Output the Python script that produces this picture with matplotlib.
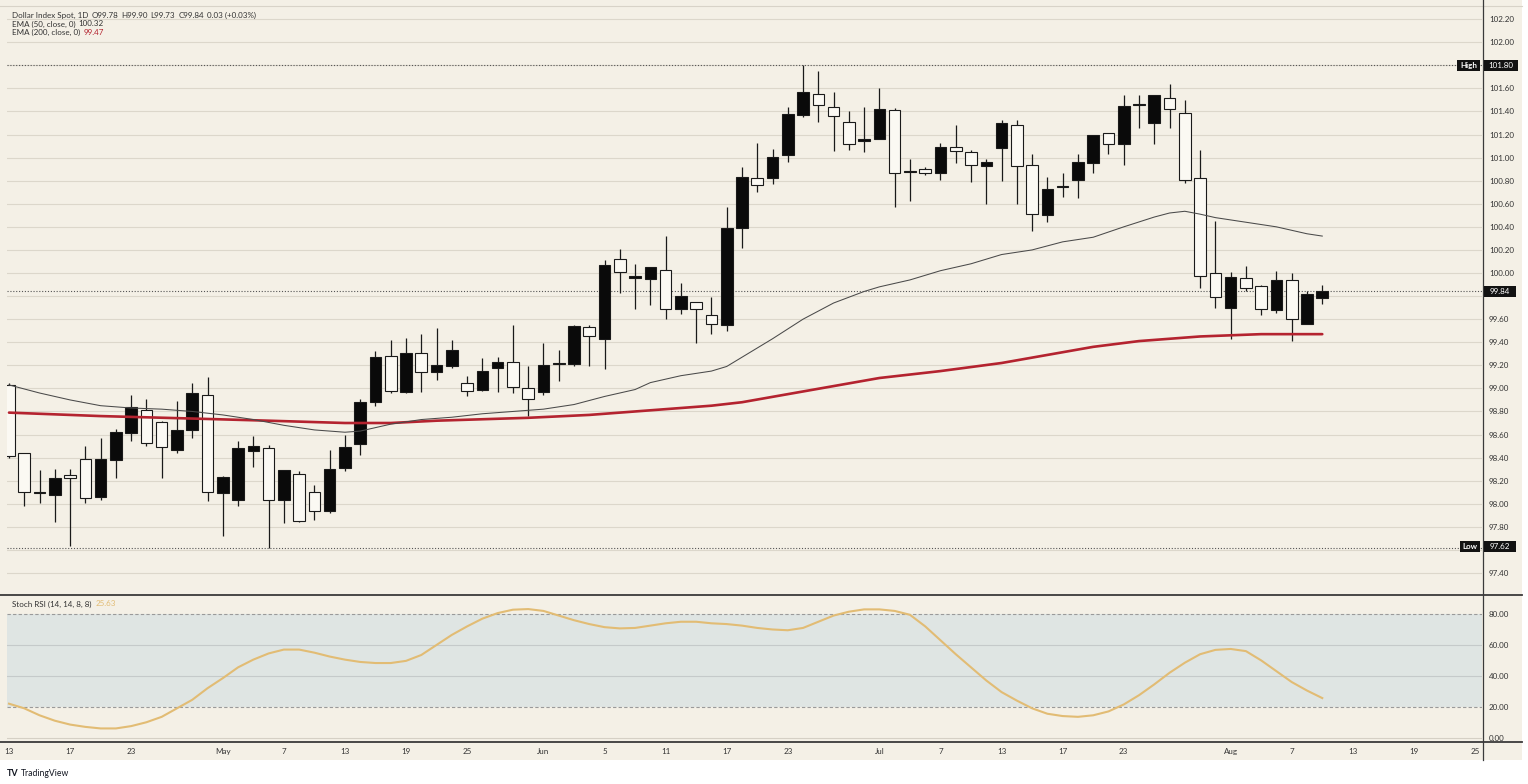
import matplotlib
matplotlib.use('Agg')
import matplotlib.pyplot as plt
import numpy as np
import pandas as pd
from matplotlib.patches import Rectangle
from matplotlib.lines import Line2D

plt.rcParams['font.family'] = ['Lato', 'DejaVu Sans']

# ---------------- data ----------------
dates = pd.bdate_range('2026-04-13', periods=97)   # trading days (last 10 = empty future space)

opens = [99.03, 98.44, 98.09, 98.08, 98.25, 98.39, 98.06, 98.38, 98.61, 98.81,
         98.71, 98.47, 98.64, 98.94, 98.09, 98.03, 98.46, 98.48, 98.03, 98.26,
         98.10, 97.94, 98.31, 98.52, 98.88, 99.28, 98.97, 99.31, 99.145, 99.19,
         99.05, 98.99, 99.18, 99.23, 99.00, 98.97, 99.21, 99.21, 99.53, 99.43,
         100.12, 99.96, 99.95, 100.03, 99.69, 99.75, 99.64, 99.55, 100.39, 100.82,
         100.82, 101.02, 101.37, 101.55, 101.44, 101.31, 101.14, 101.16, 101.41, 100.875,
         100.90, 100.87, 101.09, 101.045, 100.93, 101.08, 101.28, 100.94, 100.50, 100.745,
         100.81, 100.955, 101.21, 101.12, 101.455, 101.30, 101.52, 101.39, 100.82, 100.00,
         99.70, 99.96, 99.885, 99.68, 99.94, 99.555, 99.78]
highs = [99.05, 98.44, 98.29, 98.30, 98.30, 98.50, 98.57, 98.65, 98.94, 98.91,
         98.72, 98.89, 99.05, 99.10, 98.24, 98.54, 98.59, 98.51, 98.29, 98.28,
         98.16, 98.47, 98.60, 98.91, 99.32, 99.42, 99.44, 99.47, 99.52, 99.42,
         99.11, 99.26, 99.27, 99.55, 99.19, 99.39, 99.33, 99.55, 99.55, 100.11,
         100.21, 100.08, 100.05, 100.32, 99.91, 99.75, 99.795, 100.575, 100.92, 101.13,
         101.075, 101.435, 101.80, 101.75, 101.57, 101.40, 101.44, 101.60, 101.43, 100.99,
         100.92, 101.13, 101.28, 101.065, 100.99, 101.33, 101.325, 101.03, 100.83, 100.87,
         101.03, 101.20, 101.21, 101.54, 101.54, 101.54, 101.635, 101.50, 101.07, 100.45,
         100.01, 100.06, 99.90, 100.02, 100.00, 99.84, 99.90]
lows = [98.40, 97.98, 98.01, 97.84, 97.63, 98.01, 98.03, 98.22, 98.54, 98.50,
        98.22, 98.44, 98.57, 98.02, 97.72, 97.98, 98.32, 97.62, 97.83, 97.84,
        97.86, 97.92, 98.28, 98.42, 98.85, 98.96, 98.96, 98.97, 99.07, 99.18,
        98.93, 98.98, 98.97, 98.96, 98.76, 98.94, 99.06, 99.19, 99.19, 99.17,
        99.83, 99.685, 99.72, 99.60, 99.645, 99.39, 99.47, 99.50, 100.22, 100.70,
        100.77, 100.96, 101.355, 101.31, 101.06, 101.07, 101.05, 101.16, 100.57, 100.62,
        100.85, 100.81, 100.95, 100.79, 100.60, 100.80, 100.60, 100.36, 100.44, 100.66,
        100.65, 100.87, 101.03, 100.94, 101.26, 101.12, 101.26, 100.78, 99.87, 99.70,
        99.43, 99.84, 99.64, 99.65, 99.41, 99.555, 99.73]
closes = [98.41, 98.10, 98.10, 98.22, 98.22, 98.05, 98.39, 98.62, 98.84, 98.53,
          98.49, 98.64, 98.96, 98.10, 98.23, 98.48, 98.50, 98.03, 98.29, 97.85,
          97.94, 98.30, 98.49, 98.88, 99.27, 98.98, 99.31, 99.14, 99.20, 99.33,
          98.98, 99.15, 99.23, 99.01, 98.91, 99.20, 99.22, 99.54, 99.45, 100.07,
          100.01, 99.97, 100.05, 99.69, 99.80, 99.685, 99.56, 100.39, 100.83, 100.76,
          101.005, 101.38, 101.57, 101.46, 101.36, 101.12, 101.16, 101.42, 100.87, 100.88,
          100.87, 101.09, 101.06, 100.94, 100.96, 101.30, 100.93, 100.51, 100.73, 100.75,
          100.96, 101.195, 101.12, 101.45, 101.46, 101.54, 101.42, 100.81, 99.97, 99.79,
          99.965, 99.87, 99.69, 99.94, 99.60, 99.82, 99.84]

ema50_bar = [0, 2, 4, 6, 8, 10, 12, 14, 16, 18, 20, 22, 23, 25, 27, 29, 31, 33, 35, 37,
             39, 41, 42, 44, 46, 47, 48, 50, 52, 54, 56, 57, 59, 61, 63, 65, 67, 69, 71, 73,
             75, 76, 77, 78, 79, 81, 83, 85, 86]
ema50_val = [99.03, 98.96, 98.90, 98.85, 98.83, 98.82, 98.80, 98.77, 98.73, 98.68,
             98.64, 98.62, 98.63, 98.69, 98.73, 98.75, 98.78, 98.80, 98.82, 98.86,
             98.93, 98.99, 99.05, 99.11, 99.15, 99.19, 99.27, 99.43, 99.60, 99.74,
             99.84, 99.88, 99.94, 100.02, 100.08, 100.16, 100.20, 100.27, 100.31, 100.40,
             100.485, 100.52, 100.535, 100.51, 100.48, 100.44, 100.40, 100.34, 100.32]

ema200_bar = [0, 6, 13, 17, 22, 25, 28, 34, 38, 42, 46, 48, 51, 54, 57, 61, 65, 68, 71,
              74, 76, 78, 82, 86]
ema200_val = [98.79, 98.76, 98.735, 98.72, 98.70, 98.70, 98.72, 98.745, 98.77, 98.81,
              98.85, 98.88, 98.95, 99.02, 99.09, 99.15, 99.22, 99.29, 99.36,
              99.41, 99.43, 99.45, 99.47, 99.47]

stoch_rsi = [22, 19, 14.5, 11, 8.5, 7, 6, 6, 7.5, 10, 13.5, 19, 24.5, 32, 38.5, 45.5,
             50.5, 54.5, 57, 57, 55, 52.5, 50.5, 49, 48.3, 48.3, 49.7, 53.5, 60, 66.5,
             72, 77, 80.6, 82.8, 83.2, 82, 79, 76, 73.5, 71.5, 70.7, 71, 72.5, 74, 75,
             75, 74, 73.5, 72.5, 71, 70, 69.5, 71, 75, 79, 81.5, 83, 83, 82, 79.5, 72,
             63, 54, 45.5, 37, 29.5, 24, 19, 15.5, 14, 13.5, 14.5, 17, 21.5, 27.5, 34.5,
             42, 48.5, 54, 56.8, 57.4, 56, 50, 43, 36, 30.5, 25.63]

tick_dates = ['2026-04-13', '2026-04-17', '2026-04-23', '2026-05-01', '2026-05-07',
              '2026-05-13', '2026-05-19', '2026-05-25', '2026-06-01', '2026-06-05',
              '2026-06-11', '2026-06-17', '2026-06-23', '2026-07-01', '2026-07-07',
              '2026-07-13', '2026-07-17', '2026-07-23', '2026-08-03', '2026-08-07',
              '2026-08-13', '2026-08-19', '2026-08-25']
tick_labels = ['13', '17', '23', 'May', '7', '13', '19', '25', 'Jun', '5', '11', '17',
               '23', 'Jul', '7', '13', '17', '23', 'Aug', '7', '13', '19', '25']

price_ticks = [round(97.4 + 0.2 * k, 2) for k in range(25)]
high_val, low_val, last_val = 101.80, 97.62, 99.84
rsi_ticks = [0, 20, 40, 60, 80]

# ---------------- style ----------------
W, H = 1528, 784
BG = '#F4F0E6'
GRID = '#DCD7CB'
BAND = '#DFE5E3'
TXT = '#333333'
RED = '#B4232F'
GOLD = '#E2BC74'
FS = 5.8

def fx(p):
    return p / W

def fy(p):
    return 1 - p / H

fig = plt.figure(figsize=(W / 100, H / 100), dpi=100)
fig.patch.set_facecolor('white')
fig.add_artist(Rectangle((0, fy(760)), fx(1522), 1 - fy(760), transform=fig.transFigure,
                         facecolor=BG, edgecolor='none', zorder=-10))

L, R = 7, 1482
ax = fig.add_axes([fx(L), fy(594), fx(R) - fx(L), fy(6) - fy(594)])
ax2 = fig.add_axes([fx(L), fy(741), fx(R) - fx(L), fy(594) - fy(741)])

x = np.arange(len(opens))
xl = (-0.13, 96.46)

# ---- main pane ----
ax.set_facecolor(BG)
ax.set_xlim(*xl)
ax.set_ylim(97.218, 102.314)
for p in price_ticks:
    ax.axhline(p, color=GRID, lw=0.8, zorder=0)

o = np.array(opens); c = np.array(closes)
up = c >= o
bottom = np.minimum(o, c)
height = np.maximum(np.abs(c - o), 0.012)
ax.vlines(x, lows, highs, color='#1a1a1a', lw=0.9, zorder=2)
ax.bar(x, height, bottom=bottom, width=0.76,
       color=np.where(up, '#0a0a0a', '#FBF9F3'), edgecolor='#1a1a1a', linewidth=0.8, zorder=3)

ax.plot(ema200_bar, ema200_val, color=RED, lw=1.9, zorder=4, solid_capstyle='round')
ax.plot(ema50_bar, ema50_val, color='#4a4a4a', lw=0.75, zorder=4)

for v in (high_val, low_val, last_val):
    ax.axhline(v, color='#555555', lw=0.8, ls=(0, (1, 1.6)), zorder=1)

ax.yaxis.tick_right()
ax.set_yticks(price_ticks)
ax.set_yticklabels(['' if p in (high_val, 99.8, 97.6) else f'{p:.2f}' for p in price_ticks])
ax.tick_params(axis='y', length=0, pad=5, labelsize=FS, labelcolor=TXT)
ax.set_xticks([])
for s in ax.spines.values():
    s.set_visible(False)

# ---- stoch rsi pane ----
ax2.set_facecolor(BG)
ax2.set_xlim(*xl)
ax2.set_ylim(-2.13, 92.95)
ax2.axhspan(20, 80, color=BAND, zorder=0, lw=0)
ax2.axhline(0, color='#D5D0C5', lw=0.8, zorder=1)
for v in (40, 60):
    ax2.axhline(v, color='#C5CACA', lw=0.8, zorder=1)
for v in (20, 80):
    ax2.axhline(v, color='#9A9A9A', lw=0.8, ls=(0, (3, 2)), zorder=1)
ax2.plot(x, stoch_rsi, color=GOLD, lw=1.5, zorder=3)
ax2.yaxis.tick_right()
ax2.set_yticks(rsi_ticks)
ax2.set_yticklabels([f'{v:.2f}' for v in rsi_ticks])
ax2.tick_params(axis='y', length=0, pad=5, labelsize=FS, labelcolor=TXT)
pos = [dates.get_loc(pd.Timestamp(d)) for d in tick_dates]
ax2.set_xticks(pos)
ax2.set_xticklabels(tick_labels)
ax2.tick_params(axis='x', length=0, pad=5, labelsize=FS, labelcolor=TXT)
for s in ax2.spines.values():
    s.set_visible(False)

# ---- frame lines ----
def hline(py, x0, x1, color, lw):
    fig.add_artist(Line2D([fx(x0), fx(x1)], [fy(py), fy(py)], transform=fig.transFigure,
                          color=color, lw=lw, zorder=20))

hline(6, 0, 1522, '#D8D3C8', 0.8)
hline(594.5, 0, 1522, '#3a3a3a', 1.3)
hline(741.5, 0, 1522, '#3a3a3a', 1.3)
fig.add_artist(Line2D([fx(1482.5), fx(1482.5)], [fy(0), fy(760)], transform=fig.transFigure,
                      color='#3a3a3a', lw=0.9, zorder=20))

# ---- price boxes ----
def box(x0, x1, y0, y1, text, bold=False):
    fig.add_artist(Rectangle((fx(x0), fy(y1)), fx(x1) - fx(x0), fy(y0) - fy(y1),
                             transform=fig.transFigure, facecolor='#121212',
                             edgecolor='none', zorder=30))
    fig.text(fx((x0 + x1) / 2), fy((y0 + y1) / 2), text, ha='center', va='center',
             color='white', fontsize=FS, fontweight='bold' if bold else 'normal', zorder=31)

box(1457, 1480, 60, 71, 'High', bold=True)
box(1484, 1518, 60, 71, f'{high_val:.2f}')
box(1484, 1516, 286, 297, f'{last_val:.2f}')
box(1460, 1480, 541, 552, 'Low', bold=True)
box(1484, 1516, 541, 552, f'{low_val:.2f}')

# ---- legends ----
rend = fig.canvas.get_renderer()

def legend_line(px, py, parts, gap=3):
    xx = px
    for txt, col in parts:
        t = fig.text(fx(xx), fy(py), txt, ha='left', va='center', color=col, fontsize=FS, zorder=25)
        bb = t.get_window_extent(renderer=rend)
        xx += bb.width + gap

legend_line(12, 15, [('Dollar Index Spot, 1D', TXT), ('O99.78', TXT), ('H99.90', TXT),
                     ('L99.73', TXT), ('C99.84', TXT), ('0.03 (+0.03%)', TXT)])
legend_line(12, 24, [('EMA (50, close, 0)', TXT), ('100.32', TXT)])
legend_line(12, 32.5, [('EMA (200, close, 0)', TXT), ('99.47', RED)])
legend_line(12, 604, [('Stoch RSI (14, 14, 8, 8)', TXT), ('25.63', GOLD)], gap=4)

fig.text(fx(7), fy(773), 'TV', ha='left', va='center', fontsize=6.5, fontweight='bold',
         color='#131722')
fig.text(fx(21), fy(773), 'TradingView', ha='left', va='center', fontsize=6.2, color='#131722')

fig.savefig('out.png', dpi=100, facecolor=fig.get_facecolor())
